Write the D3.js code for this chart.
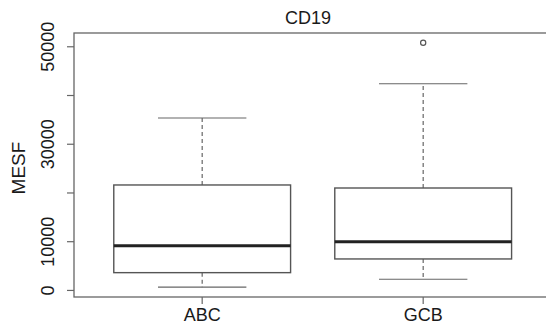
<!DOCTYPE html>
<html>
<head>
<meta charset="utf-8" />
<script src="https://d3js.org/d3.v7.min.js"></script>
<style>
  body, html { margin: 0; padding: 0; background: #fff; overflow: hidden; }
  text { font-family: "Liberation Sans", Arial, sans-serif; fill: #1a1a1a; }
</style>
</head>
<body>
<div id="chart"></div>
<script>
// box statistics
const groups = ["ABC", "GCB"];
const whiskerLow = [660, 2300];
const q1 = [3650, 6460];
const median = [9190, 10010];
const q3 = [21640, 21020];
const whiskerHigh = [35380, 42410];
const outliers = [[], [50820]];
const yTicks = [0, 10000, 20000, 30000, 40000, 50000];
const yLabels = [0, 10000, 30000, 50000];

const width = 546, height = 332;
const plotLeft = 74, plotTop = 33, plotBottom = 297;

const svg = d3.select("#chart").append("svg")
    .attr("width", width)
    .attr("height", height);

// R style: range padded by 4%
const allVals = whiskerLow.concat(whiskerHigh, outliers.flat());
const lo = d3.min(allVals), hi = d3.max(allVals);
const pad = (hi - lo) * 0.04;

const x = d3.scaleLinear().domain([0.42, 2.58]).range([plotLeft, plotLeft + 2.16 * 221]);
const y = d3.scaleLinear().domain([lo - pad, hi + pad]).range([plotBottom, plotTop]);

const boxW = 0.4, capW = 0.2;

// frame
svg.append("rect")
    .attr("x", x(0.42)).attr("y", y(hi + pad))
    .attr("width", x(2.58) - x(0.42)).attr("height", y(lo - pad) - y(hi + pad))
    .attr("fill", "none").attr("stroke", "#666").attr("stroke-width", 1.3);

// y axis
const yAxis = svg.append("g");
yAxis.selectAll("line.tick").data(yTicks).enter().append("line")
    .attr("class", "tick")
    .attr("x1", plotLeft - 7).attr("x2", plotLeft)
    .attr("y1", d => y(d)).attr("y2", d => y(d))
    .attr("stroke", "#666").attr("stroke-width", 1.2);
yAxis.selectAll("text").data(yLabels).enter().append("text")
    .attr("transform", d => `translate(${plotLeft - 20},${y(d)}) rotate(-90)`)
    .attr("text-anchor", "middle")
    .attr("font-size", 18)
    .text(d => d);

// x axis ticks
svg.selectAll("line.xtick").data(groups).enter().append("line")
    .attr("class", "xtick")
    .attr("x1", (d, i) => x(i + 1)).attr("x2", (d, i) => x(i + 1))
    .attr("y1", plotBottom).attr("y2", plotBottom + 7)
    .attr("stroke", "#666").attr("stroke-width", 1.2);
svg.selectAll("text.xlab").data(groups).enter().append("text")
    .attr("class", "xlab")
    .attr("x", (d, i) => x(i + 1)).attr("y", plotBottom + 24)
    .attr("text-anchor", "middle")
    .attr("font-size", 18)
    .text(d => d);

// titles
svg.append("text")
    .attr("x", 308).attr("y", 24)
    .attr("text-anchor", "middle")
    .attr("font-size", 18)
    .text("CD19");
svg.append("text")
    .attr("transform", `translate(25,${(plotTop + plotBottom) / 2 + 3}) rotate(-90)`)
    .attr("text-anchor", "middle")
    .attr("font-size", 19)
    .text("MESF");

// boxes
const box = svg.selectAll("g.box").data(groups).enter().append("g").attr("class", "box");
box.each(function (d, i) {
    const g = d3.select(this);
    const c = i + 1;
    // whiskers
    g.append("line")
        .attr("x1", x(c)).attr("x2", x(c))
        .attr("y1", y(q3[i])).attr("y2", y(whiskerHigh[i]))
        .attr("stroke", "#666").attr("stroke-width", 1.2).attr("stroke-dasharray", "4,3");
    g.append("line")
        .attr("x1", x(c)).attr("x2", x(c))
        .attr("y1", y(q1[i])).attr("y2", y(whiskerLow[i]))
        .attr("stroke", "#666").attr("stroke-width", 1.2).attr("stroke-dasharray", "4,3");
    [whiskerLow[i], whiskerHigh[i]].forEach(v => {
        g.append("line")
            .attr("x1", x(c - capW)).attr("x2", x(c + capW))
            .attr("y1", y(v)).attr("y2", y(v))
            .attr("stroke", "#666").attr("stroke-width", 1.2);
    });
    g.append("rect")
        .attr("x", x(c - boxW)).attr("y", y(q3[i]))
        .attr("width", x(c + boxW) - x(c - boxW))
        .attr("height", y(q1[i]) - y(q3[i]))
        .attr("fill", "#fff").attr("stroke", "#555").attr("stroke-width", 1.4);
    g.append("line")
        .attr("x1", x(c - boxW)).attr("x2", x(c + boxW))
        .attr("y1", y(median[i])).attr("y2", y(median[i]))
        .attr("stroke", "#222").attr("stroke-width", 3);
    g.selectAll("circle").data(outliers[i]).enter().append("circle")
        .attr("cx", x(c)).attr("cy", v => y(v))
        .attr("r", 2.6)
        .attr("fill", "none").attr("stroke", "#555").attr("stroke-width", 1.2);
});
</script>
</body>
</html>
